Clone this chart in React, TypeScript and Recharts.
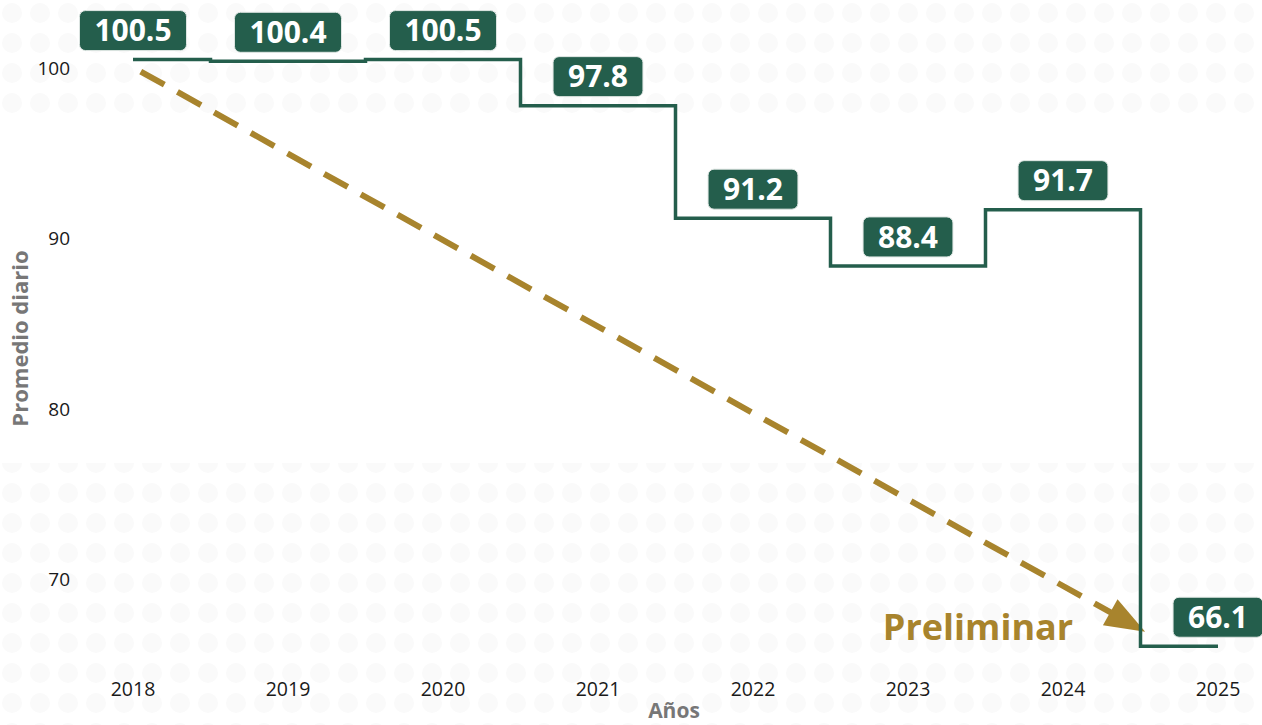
import React from 'react'
import { LineChart, Line, XAxis, YAxis, LabelList, ReferenceLine } from 'recharts'

const years = [2018, 2019, 2020, 2021, 2022, 2023, 2024, 2025]
const promedio = [100.5, 100.4, 100.5, 97.8, 91.2, 88.4, 91.7, 66.1]
const yTicks = [70, 80, 90, 100]
const tendencia = [
  { x: 2018.05, y: 99.8 },
  { x: 2024.53, y: 66.95 },
]

const data = years.map((year, i) => ({ year, value: promedio[i] }))

const GREEN = '#245E4C'
const GOLD = '#A8842D'
const FONT = '"Open Sans", sans-serif'

const textWidth = (s: string, fs: number) =>
  s.split('').reduce((w, c) => w + (c === '.' ? 0.28 : 0.572), 0) * fs

function Badge(props: any) {
  const { x, y, value } = props
  const label = Number(value).toFixed(1)
  const fs = 30
  const w = textWidth(label, fs) + 30
  const h = 40
  return (
    <g>
      <rect x={x - w / 2} y={y - 49} width={w} height={h} rx={6} ry={6} fill={GREEN} stroke="#dfe6e3" strokeWidth={1} />
      <text x={x} y={y - 29} dy="0.36em" textAnchor="middle" fontSize={fs} fontWeight={700} fill="#fff" fontFamily={FONT}>
        {label}
      </text>
    </g>
  )
}

function Arrow(props: any) {
  const { x1, y1, x2, y2 } = props
  const dx = x2 - x1
  const dy = y2 - y1
  const len = Math.sqrt(dx * dx + dy * dy)
  const ux = dx / len
  const uy = dy / len
  const headLen = 40
  const half = 15
  const bx = x2 - ux * headLen
  const by = y2 - uy * headLen
  return (
    <g>
      <line x1={x1} y1={y1} x2={bx + ux * 2} y2={by + uy * 2} stroke={GOLD} strokeWidth={6} strokeDasharray="27 15" />
      <polygon
        points={`${x2},${y2} ${bx - uy * half},${by + ux * half} ${bx + uy * half},${by - ux * half}`}
        fill={GOLD}
      />
      <text x={x2 - 72} y={y2 + 8} textAnchor="end" fontSize={36} fontWeight={700} fill={GOLD} fontFamily={FONT}>
        Preliminar
      </text>
    </g>
  )
}

function YTitle(props: any) {
  const vb = props.viewBox || {}
  const cx = 20
  const cy = vb.y + vb.height / 2 - 11
  return (
    <text x={cx} y={cy} transform={`rotate(-90 ${cx} ${cy})`} textAnchor="middle" dy="0.36em" fontSize={22} fontWeight={700} fill="#777" fontFamily={FONT}>
      Promedio diario
    </text>
  )
}

function XTitle(props: any) {
  const vb = props.viewBox || {}
  return (
    <text x={vb.x + vb.width / 2 + 6} y={718} textAnchor="middle" fontSize={21} fontWeight={700} fill="#777" fontFamily={FONT}>
      Años
    </text>
  )
}

function Watermark() {
  return (
    <svg width={1262} height={725} style={{ position: 'absolute', left: 0, top: 0 }}>
      <defs>
        <pattern id="dots" x={-2} y={-2} width={28} height={30} patternUnits="userSpaceOnUse">
          <circle cx={14} cy={15} r={10} fill="#fafafa" />
        </pattern>
      </defs>
      <rect x={0} y={0} width={1262} height={118} fill="url(#dots)" />
      <rect x={0} y={463} width={1262} height={262} fill="url(#dots)" />
    </svg>
  )
}

export default function App() {
  return (
    <div style={{ position: 'absolute', left: 0, top: 0, width: 1262, height: 725, background: '#fff', fontFamily: FONT }}>
      <Watermark />
      <div style={{ position: 'absolute', left: 0, top: 0 }}>
        <LineChart width={1262} height={725} data={data} margin={{ top: 34, right: 4, left: 0, bottom: 0 }}>
          <XAxis
            dataKey="year"
            type="number"
            domain={[2018, 2025]}
            ticks={years}
            padding={{ left: 55, right: 40 }}
            axisLine={false}
            tickLine={false}
            tickMargin={11}
            height={60}
            tick={{ fontSize: 19.5, fill: '#1a1a1a', fontFamily: FONT }}
            label={<XTitle />}
          />
          <YAxis
            domain={[65, 102]}
            ticks={yTicks}
            width={78}
            axisLine={false}
            tickLine={false}
            tick={{ fontSize: 19, fill: '#1a1a1a', fontFamily: FONT }}
            label={<YTitle />}
          />
          <ReferenceLine segment={tendencia} shape={<Arrow />} ifOverflow="visible" />
          <Line
            type="step"
            dataKey="value"
            stroke={GREEN}
            strokeWidth={3.5}
            dot={false}
            isAnimationActive={false}
          >
            <LabelList dataKey="value" content={<Badge />} />
          </Line>
        </LineChart>
      </div>
    </div>
  )
}
